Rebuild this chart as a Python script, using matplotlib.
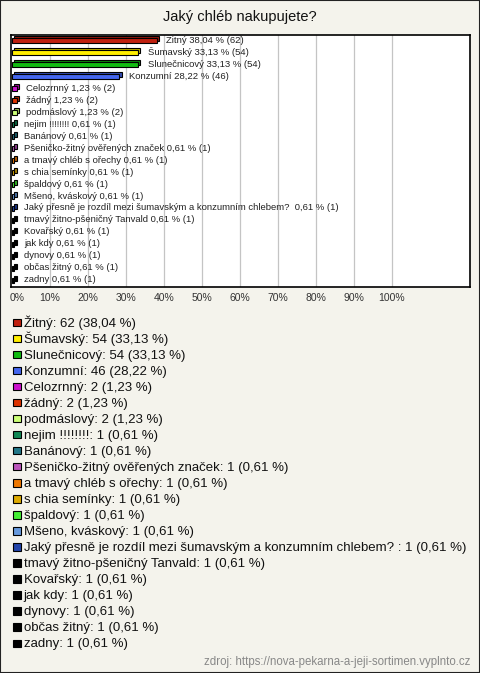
import matplotlib
matplotlib.use("Agg")
import matplotlib.pyplot as plt
from matplotlib.patches import Rectangle
from matplotlib import colors as mcolors

plt.rcParams['font.family'] = ['Liberation Sans', 'DejaVu Sans']

title = "Jaký chléb nakupujete?"
names = ["Žitný", "Šumavský", "Slunečnicový", "Konzumní", "Celozrnný", "žádný",
         "podmáslový", "nejim !!!!!!!!", "Banánový", "Pšeničko-žitný ověřených značek",
         "a tmavý chléb s ořechy", "s chia semínky", "špaldový", "Mšeno, kváskový",
         "Jaký přesně je rozdíl mezi šumavským a konzumním chlebem? ",
         "tmavý žitno-pšeničný Tanvald", "Kovařský", "jak kdy", "dynovy",
         "občas žitný", "zadny"]
counts = [62, 54, 54, 46, 2, 2, 2, 1, 1, 1, 1, 1, 1, 1, 1, 1, 1, 1, 1, 1, 1]
pcts = [38.04, 33.13, 33.13, 28.22, 1.23, 1.23, 1.23, 0.61, 0.61, 0.61, 0.61,
        0.61, 0.61, 0.61, 0.61, 0.61, 0.61, 0.61, 0.61, 0.61, 0.61]
colors = ["#c0200f", "#ffee00", "#11bb11", "#4466ee", "#cc11cc", "#dd3300",
          "#ccff77", "#118855", "#227788", "#bb55bb", "#ee7700", "#ddaa00",
          "#44ee33", "#6699dd", "#2244aa", "#000000", "#000000", "#000000",
          "#000000", "#000000", "#000000"]
ticks = list(range(0, 101, 10))
source = "zdroj: https://nova-pekarna-a-jeji-sortimen.vyplnto.cz"

W, H = 480, 673
bg = "#f4f3ec"
fig = plt.figure(figsize=(W / 100, H / 100), dpi=100, facecolor=bg)

def fx(px):
    return px / W

def fy(py):
    return 1 - py / H

ax = fig.add_axes([fx(11), fy(287), fx(470) - fx(11), fy(35) - fy(287)])
ax.set_facecolor("white")
for s in ax.spines.values():
    s.set_linewidth(1.2)
    s.set_color("black")

ys = list(range(len(names)))
ax.set_xlim(-0.26, 120.5)
ax.set_ylim(len(names) - 0.45, -0.5)

for t in ticks[1:]:
    ax.axvline(t, color="#c4c4c4", lw=0.9, zorder=0)

def fmt(v):
    return f"{v:.2f}".replace(".", ",")

# 3D depth: back face offset up/right
dark = [tuple(c * 0.75 for c in mcolors.to_rgb(c)) for c in colors]
ax.barh([y - 0.17 for y in ys], pcts, left=0.6, height=0.42, color=dark,
        edgecolor="black", lw=0.8, zorder=2)
ax.barh(ys, pcts, height=0.42, color=colors, edgecolor="black", lw=0.8, zorder=3)

for y, n, p, c in zip(ys, names, pcts, counts):
    ax.annotate(f"{n} {fmt(p)} % ({c})", xy=(p, y - 0.05), xytext=(7, 0),
                textcoords="offset points", va="center", ha="left",
                fontsize=6.8, color="#222222", zorder=4)

ax.set_xticks([])
ax.set_yticks([])

for t in ticks:
    if t == 0:
        fig.text(fx(10), fy(298), f"{t}%", ha="left", va="center",
                 fontsize=7.5, color="#333333")
    else:
        fig.text(fx(12 + t * 3.8), fy(298), f"{t}%", ha="center", va="center",
                 fontsize=7.5, color="#333333")

fig.text(0.5, fy(17), title, ha="center", va="center", fontsize=10.5, color="#111111")

# legend
for i, (n, p, c, col) in enumerate(zip(names, pcts, counts, colors)):
    yc = 322 + 16.05 * i
    fig.patches.append(Rectangle((fx(13), fy(yc + 4)), 7.5 / W, 7.5 / H,
                                 transform=fig.transFigure, facecolor=col,
                                 edgecolor="black", lw=0.8))
    fig.text(fx(23.5), fy(yc + 4.5), f"{n}: {c} ({fmt(p)} %)", ha="left",
             va="baseline", fontsize=9.5, color="#111111")

fig.text(fx(470), fy(662), source, ha="right", va="center", fontsize=8.3,
         color="#888888")

fig.patches.append(Rectangle((0, 0), 1, 1, transform=fig.transFigure,
                             fill=False, edgecolor="#222222", lw=1.5))

fig.savefig("out.png", dpi=100, facecolor=bg)
